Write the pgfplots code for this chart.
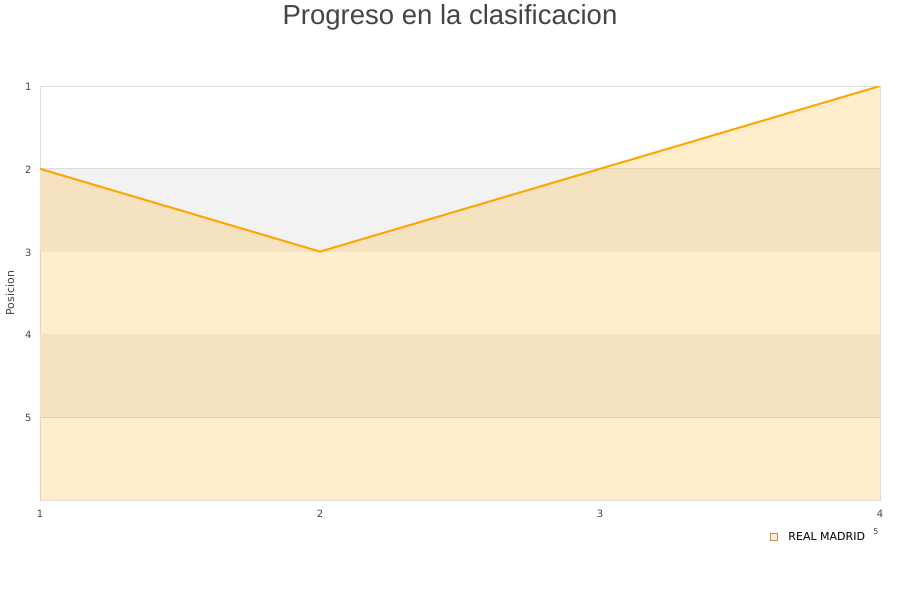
\documentclass[border=0pt]{standalone}
\usepackage{pgfplots}
\pgfplotsset{compat=1.18}
\usepackage{fontspec}
\setmainfont{DejaVu Sans}
\newfontfamily\titlefont{Liberation Sans}
\definecolor{txt}{HTML}{444444}
\definecolor{band}{HTML}{F2F2F2}
\definecolor{gridc}{HTML}{DEDEDE}
\definecolor{lineor}{HTML}{FFA500}
\begin{document}
\begin{tikzpicture}[x=1pt,y=1pt]
\path[use as bounding box] (0,0) rectangle (900,600);
\node[text=txt,font=\titlefont\fontsize{27.5}{32}\selectfont] at (450,583) {Progreso en la clasificacion};
\begin{axis}[
  at={(40pt,100pt)}, anchor=south west,
  scale only axis, width=840pt, height=414pt,
  xmin=1, xmax=4, ymin=1, ymax=6,
  y dir=reverse,
  xtick={1,2,3,4}, ytick={1,2,3,4,5},
  major tick length=0pt,
  ymajorgrids, grid style={gridc, line width=0.8pt},
  axis line style={gridc, line width=0.8pt},
  tick label style={font=\fontsize{10}{12}\selectfont, text=txt},
  /pgf/number format/assume math mode=true,
  yticklabel style={xshift=-5pt, yshift=-0.8pt},
  xticklabel style={yshift=-7pt},
  ylabel={Posicion},
  ylabel style={at={(axis description cs:-0.0357,0.5)}, anchor=center, font=\fontsize{11}{13}\selectfont, text=txt},
  legend style={at={(axis description cs:0.869,-0.0895)}, anchor=west, draw=none, fill=none,
    font=\fontsize{11}{13}\selectfont, inner sep=0pt, legend cell align=left,
    nodes={inner xsep=4pt}},
  legend image code/.code={\draw[fill=lineor!22, draw=lineor!50!black!60, line width=0.6pt] (0pt,-3.5pt) rectangle (7pt,3.5pt); \path (13pt,0pt);},
  axis on top=false,
]
\addplot[fill=band, draw=none, forget plot] coordinates {(1,2) (4,2) (4,3) (1,3)};
\addplot[fill=band, draw=none, forget plot] coordinates {(1,4) (4,4) (4,5) (1,5)};
\addplot[fill=lineor, fill opacity=0.2, draw=none, forget plot] coordinates {(1,2) (2,3) (3,2) (4,1) (4,6) (1,6)};
\addplot[lineor, line width=2pt] coordinates {(1,2) (2,3) (3,2) (4,1)};
\addlegendentry{REAL MADRID}
\end{axis}
\node[text=txt, font=\fontsize{8}{9}\selectfont] at (876,68) {5};
\end{tikzpicture}
\end{document}
